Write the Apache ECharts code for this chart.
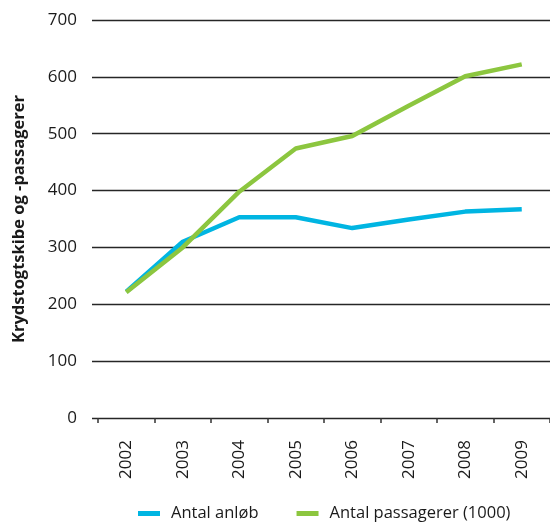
<!DOCTYPE html>
<html>
<head>
<meta charset="utf-8">
<script src="https://cdn.jsdelivr.net/npm/echarts@6/dist/echarts.min.js"></script>
<style>html,body{margin:0;padding:0;background:#fff}#c{width:550px;height:524px}</style>
</head>
<body>
<div id="c"></div>
<script>
var categories = ['2002','2003','2004','2005','2006','2007','2008','2009'];
var anlob = [222, 310, 353, 353, 334, 349, 363, 367];
var passagerer = [221, 300, 398, 474, 496, 549, 601, 622];
var seriesNames = ['Antal anløb', 'Antal passagerer (1000)'];
var yTitle = 'Krydstogtskibe og -passagerer';

var FONT = '"Open Sans", "Noto Sans", sans-serif';
var chart = echarts.init(document.getElementById('c'), null, {renderer: 'canvas'});
chart.setOption({
  animation: false,
  textStyle: {fontFamily: FONT},
  grid: [
    {left: 98, right: -7, top: 20, bottom: 106},
    {left: 92, right: -7, top: 20, bottom: 106}
  ],
  legend: {
    left: 138, top: 505, padding: 0,
    icon: 'rect', itemWidth: 22, itemHeight: 5, itemGap: 38,
    textStyle: {fontFamily: FONT, fontSize: 16.5, color: '#1a1a1a', padding: [0, 0, 0, 6]},
    data: seriesNames
  },
  xAxis: [
    {
      type: 'category', gridIndex: 0, data: categories, boundaryGap: true,
      axisLine: {show: false},
      axisTick: {show: true, length: 5, lineStyle: {color: '#333', width: 1.5}},
      axisLabel: {rotate: 90, margin: 22, fontSize: 17, color: '#1a1a1a', fontFamily: FONT}
    },
    {type: 'value', gridIndex: 1, show: false, min: 0, max: 1}
  ],
  yAxis: [
    {
      type: 'value', gridIndex: 0, min: 0, max: 700, interval: 100,
      axisLine: {show: false}, axisTick: {show: false}, splitLine: {show: false},
      axisLabel: {margin: 21, fontSize: 17, color: '#1a1a1a', fontFamily: FONT},
      name: yTitle, nameLocation: 'middle', nameGap: 70,
      nameTextStyle: {fontSize: 16.5, fontWeight: 'bold', color: '#1a1a1a', fontFamily: FONT}
    },
    {
      type: 'value', gridIndex: 1, min: 0, max: 700, interval: 100,
      axisLine: {show: false}, axisTick: {show: false}, axisLabel: {show: false},
      splitLine: {show: true, lineStyle: {color: '#262626', width: 1.3}}
    }
  ],
  series: [
    {
      name: seriesNames[0], type: 'line', data: anlob, xAxisIndex: 0, yAxisIndex: 0,
      showSymbol: false, symbol: 'none', z: 3,
      lineStyle: {color: '#00b5e2', width: 4.5},
      itemStyle: {color: '#00b5e2'}
    },
    {
      name: seriesNames[1], type: 'line', data: passagerer, xAxisIndex: 0, yAxisIndex: 0,
      showSymbol: false, symbol: 'none', z: 4,
      lineStyle: {color: '#8cc63f', width: 4.5},
      itemStyle: {color: '#8cc63f'}
    }
  ]
});
</script>
</body>
</html>
